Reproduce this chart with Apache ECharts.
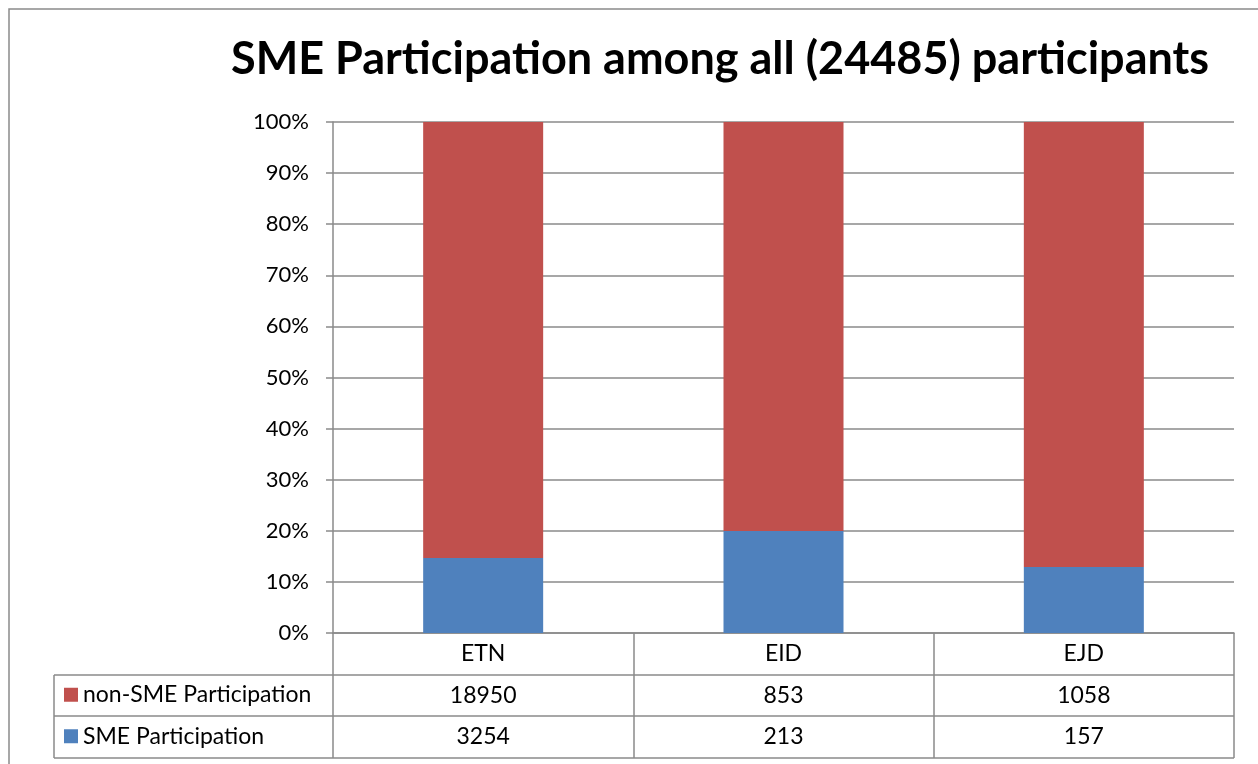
<!DOCTYPE html>
<html>
<head>
<meta charset="utf-8">
<script src="https://cdn.jsdelivr.net/npm/echarts@6/dist/echarts.min.js"></script>
<style>
  html, body { margin: 0; padding: 0; background: #fff; }
  #chart { width: 1258px; height: 764px; }
</style>
</head>
<body>
<div id="chart"></div>
<script>
// data
const categories = ['ETN', 'EID', 'EJD']
const nonSme = [18950, 853, 1058]
const sme = [3254, 213, 157]
const yTicks = ['0%', '10%', '20%', '30%', '40%', '50%', '60%', '70%', '80%', '90%', '100%']

// layout
const FONT = 'Lato, "Open Sans", sans-serif'
const GRID = { left: 333, top: 122, right: 24, bottom: 131 }
const ROW_H = 41.5
const LEGEND_LEFT = 54
const LINE = '#8a8a8a'

const W = 1258, H = 764
const plotBottom = H - GRID.bottom
const plotRight = W - GRID.right
const rowLines = [1, 2, 3].map(i => Math.round(plotBottom + i * ROW_H))

// 100% stacked: share of each category total
const totals = categories.map((c, i) => nonSme[i] + sme[i])
const pct = arr => arr.map((v, i) => v / totals[i] * 100)

const chart = echarts.init(document.getElementById('chart'))

const tableLines = rowLines.map(y => ({
    type: 'line',
    shape: { x1: LEGEND_LEFT, y1: y, x2: plotRight, y2: y },
    style: { stroke: LINE, lineWidth: 1.5 }
}))

// one legend per table row
const legendFor = (name, row) => ({
    left: 64,
    top: plotBottom + ROW_H * row + ROW_H / 2 - 12,
    padding: 0,
    itemWidth: 14,
    itemHeight: 14,
    itemGap: 6,
    icon: 'rect',
    data: [name],
    textStyle: { fontSize: 23, color: '#000', fontFamily: FONT }
})

chart.setOption({
    animation: false,
    textStyle: { fontFamily: FONT },
    title: {
        text: 'SME Participation among all (24485) participants',
        left: 226,
        top: 32,
        textStyle: { fontSize: 45, fontWeight: 'bold', color: '#000', fontFamily: FONT }
    },
    legend: [
        legendFor('non-SME Participation', 1),
        legendFor('SME Participation', 2)
    ],
    grid: GRID,
    xAxis: {
        type: 'category',
        data: categories,
        axisLine: { lineStyle: { color: LINE, width: 1.5 } },
        axisTick: { show: true, length: rowLines[2] - plotBottom, interval: 0, lineStyle: { color: LINE, width: 1.5 } },
        axisLabel: {
            interval: 0,
            margin: 0,
            color: '#000',
            fontSize: 23,
            lineHeight: ROW_H,
            fontFamily: FONT,
            formatter: (v, i) => [v, nonSme[i], sme[i]].join('\n')
        }
    },
    yAxis: {
        type: 'value',
        min: 0,
        max: 100,
        interval: 10,
        axisLine: { show: true, lineStyle: { color: LINE, width: 1.5 } },
        axisTick: { show: true, length: 7, lineStyle: { color: LINE, width: 1.5 } },
        splitLine: { lineStyle: { color: LINE, width: 1.5 } },
        axisLabel: {
            margin: 24,
            color: '#000',
            fontSize: 22,
            fontFamily: FONT,
            formatter: v => yTicks[Math.round(v / 10)]
        }
    },
    series: [
        {
            name: 'SME Participation',
            type: 'bar',
            stack: 'all',
            barWidth: 120,
            data: pct(sme),
            itemStyle: { color: '#4F81BD' }
        },
        {
            name: 'non-SME Participation',
            type: 'bar',
            stack: 'all',
            barWidth: 120,
            data: pct(nonSme),
            itemStyle: { color: '#C0504D' }
        }
    ],
    graphic: [
        {
            type: 'rect',
            shape: { x: 9, y: 9, width: W, height: H },
            style: { fill: 'none', stroke: LINE, lineWidth: 1.5 },
            silent: true
        },
        {
            type: 'line',
            shape: { x1: LEGEND_LEFT, y1: rowLines[0], x2: LEGEND_LEFT, y2: rowLines[2] },
            style: { stroke: LINE, lineWidth: 1.5 }
        }
    ].concat(tableLines)
})
</script>
</body>
</html>
